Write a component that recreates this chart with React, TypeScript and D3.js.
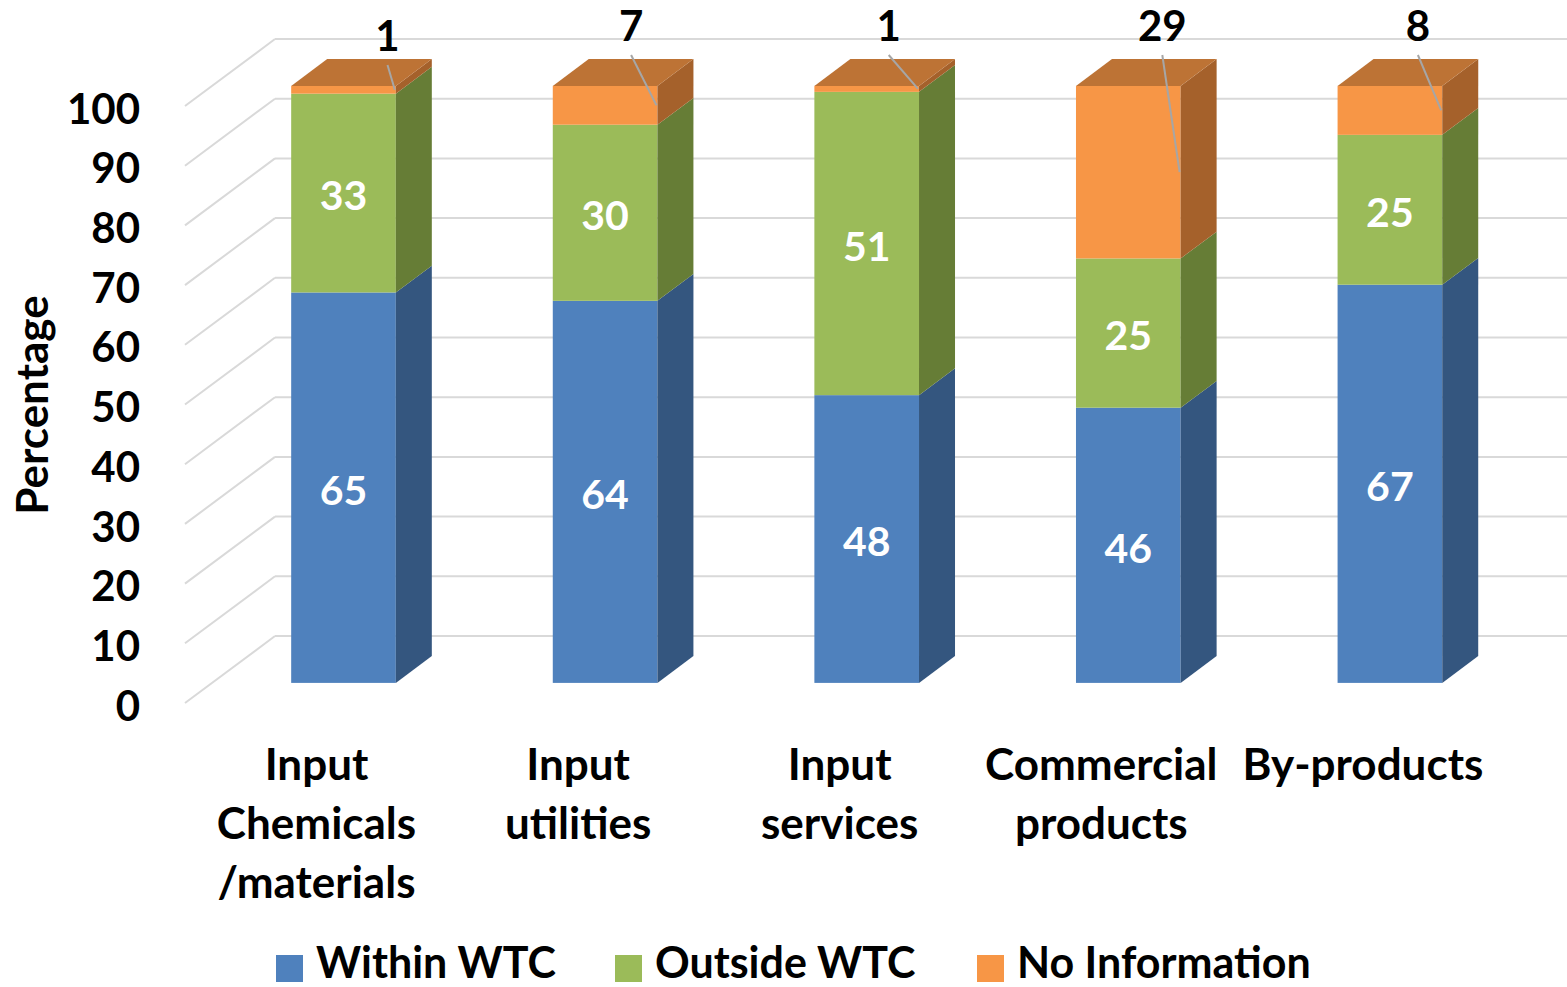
import React from "react";
import * as d3 from "d3";

// chart values (percent)
const categories = [
  ["Input", "Chemicals", "/materials"],
  ["Input", "utilities"],
  ["Input", "services"],
  ["Commercial", "products"],
  ["By-products"],
];
const seriesNames = ["Within WTC", "Outside WTC", "No Information"];
const withinWTC = [65.4, 64.0, 48.2, 46.1, 66.7];
const outsideWTC = [33.3, 29.5, 50.8, 25.0, 25.1];
const noInformation = [1.3, 6.5, 1.0, 28.9, 8.2];
const yTicks = [0, 10, 20, 30, 40, 50, 60, 70, 80, 90, 100];

// face colours per series: front, side, top
const colors = [
  { front: "#4f81bd", side: "#34567f", top: "#3f6a9c" },
  { front: "#9bbb59", side: "#667d36", top: "#7f9a46" },
  { front: "#f79646", side: "#a5612b", top: "#bd7335" },
];

// callout nudges for the "No Information" labels (relative to bar center)
const calloutDx = [44, 26, 22, 34, 28];
const calloutDy = [10, 0, 0, 0, 0];

const W = 1567;
const H = 987;
const FONT = "Lato, 'Open Sans', sans-serif";

// oblique depth of the 3D floor
const DEPTH_X = 90;
const DEPTH_Y = -67;
const BAR_FRONT = 0.3;
const BAR_BACK = 0.7;

const App = () => {
  const x = d3
    .scaleBand<number>()
    .domain(categories.map((_, i) => i))
    .range([185.7, 1493.7])
    .paddingInner(0.6)
    .paddingOuter(0.3);

  const y = d3.scaleLinear().domain([0, 100]).range([703, 106]);

  const proj = (px: number, py: number, d: number): [number, number] => [
    px + d * DEPTH_X,
    py + d * DEPTH_Y,
  ];
  const poly = (pts: [number, number][]) => pts.map((p) => p.join(",")).join(" ");

  const series = [withinWTC, outsideWTC, noInformation];
  const stack = categories.map((_, i) => {
    let acc = 0;
    return series.map((s) => {
      const y0 = acc;
      acc += s[i];
      return { y0, y1: acc, v: s[i] };
    });
  });

  const bw = x.bandwidth();

  return (
    <svg width={W} height={H} style={{ display: "block", position: "absolute", left: 0, top: 0 }}>
      <rect width={W} height={H} fill="#fff" />

      {/* gridlines: floor diagonal + back wall */}
      {yTicks.map((t) => {
        const a = proj(185, y(t), 0);
        const b = proj(185, y(t), 1);
        return (
          <g key={t} stroke="#d9d9d9" strokeWidth={2} fill="none">
            <line x1={a[0]} y1={a[1]} x2={b[0]} y2={b[1]} />
            <line x1={b[0]} y1={b[1]} x2={W + 20} y2={b[1]} />
          </g>
        );
      })}

      {/* tick labels */}
      {yTicks.map((t) => (
        <text
          key={t}
          x={140}
          y={y(t)}
          dy="0.42em"
          textAnchor="end"
          fontFamily={FONT}
          fontWeight="bold"
          fontSize={42}
          fill="#000"
        >
          {t}
        </text>
      ))}

      <text
        transform={`translate(48,405) rotate(-90)`}
        textAnchor="middle"
        fontFamily={FONT}
        fontWeight="bold"
        fontSize={44}
        fill="#000"
      >
        Percentage
      </text>

      {/* bars */}
      {categories.map((_, i) => {
        const x0 = x(i) as number;
        const x1 = x0 + bw;
        const segs = stack[i];
        return (
          <g key={i}>
            {segs.map((sg, k) => {
              const c = colors[k];
              const ft = proj(x0, y(sg.y1), BAR_FRONT);
              const fb = proj(x1, y(sg.y0), BAR_FRONT);
              const s1 = proj(x1, y(sg.y1), BAR_FRONT);
              const s2 = proj(x1, y(sg.y1), BAR_BACK);
              const s3 = proj(x1, y(sg.y0), BAR_BACK);
              const s4 = proj(x1, y(sg.y0), BAR_FRONT);
              return (
                <g key={k}>
                  <rect x={ft[0]} y={ft[1]} width={fb[0] - ft[0]} height={fb[1] - ft[1]} fill={c.front} />
                  <polygon points={poly([s1, s2, s3, s4])} fill={c.side} />
                  {k === segs.length - 1 && (
                    <polygon
                      points={poly([
                        proj(x0, y(sg.y1), BAR_FRONT),
                        proj(x0, y(sg.y1), BAR_BACK),
                        proj(x1, y(sg.y1), BAR_BACK),
                        proj(x1, y(sg.y1), BAR_FRONT),
                      ])}
                      fill={c.top}
                    />
                  )}
                </g>
              );
            })}
          </g>
        );
      })}

      {/* inner data labels */}
      {categories.map((_, i) => {
        const cx = (x(i) as number) + bw / 2 + BAR_FRONT * DEPTH_X;
        return stack[i].slice(0, 2).map((sg, k) => (
          <text
            key={`${i}-${k}`}
            x={cx}
            y={y((sg.y0 + sg.y1) / 2) + BAR_FRONT * DEPTH_Y}
            dy="0.42em"
            textAnchor="middle"
            fontFamily={FONT}
            fontWeight="bold"
            fontSize={41}
            fill="#fff"
          >
            {Math.round(sg.v)}
          </text>
        ));
      })}

      {/* callouts for No Information */}
      {categories.map((_, i) => {
        const sg = stack[i][2];
        const cx = (x(i) as number) + bw / 2 + BAR_FRONT * DEPTH_X + calloutDx[i];
        const cy = 25 + calloutDy[i];
        const edge = proj((x(i) as number) + bw - 1, y((sg.y0 + sg.y1) / 2), BAR_FRONT);
        return (
          <g key={`c${i}`}>
            <line x1={cx} y1={cy + 30} x2={edge[0]} y2={edge[1]} stroke="#a6a6a6" strokeWidth={2} />
            <text
              x={cx}
              y={cy}
              dy="0.38em"
              textAnchor="middle"
              fontFamily={FONT}
              fontWeight="bold"
              fontSize={42}
              fill="#000"
            >
              {Math.round(sg.v)}
            </text>
          </g>
        );
      })}

      {/* category labels */}
      {categories.map((lines, i) => {
        const cx = (x(i) as number) + bw / 2;
        return (
          <text
            key={`l${i}`}
            textAnchor="middle"
            fontFamily={FONT}
            fontWeight="bold"
            fontSize={44}
            fill="#000"
          >
            {lines.map((ln, j) => (
              <tspan key={j} x={cx} y={780 + j * 59}>
                {ln}
              </tspan>
            ))}
          </text>
        );
      })}

      {/* legend */}
      {seriesNames.map((name, k) => {
        const lx = [276, 615, 977][k];
        return (
          <g key={name}>
            <rect x={lx} y={955} width={27} height={27} fill={colors[k].front} />
            <text
              x={lx + 40}
              y={978}
              fontFamily={FONT}
              fontWeight="bold"
              fontSize={43}
              fill="#000"
            >
              {name}
            </text>
          </g>
        );
      })}
    </svg>
  );
};

export default App;
